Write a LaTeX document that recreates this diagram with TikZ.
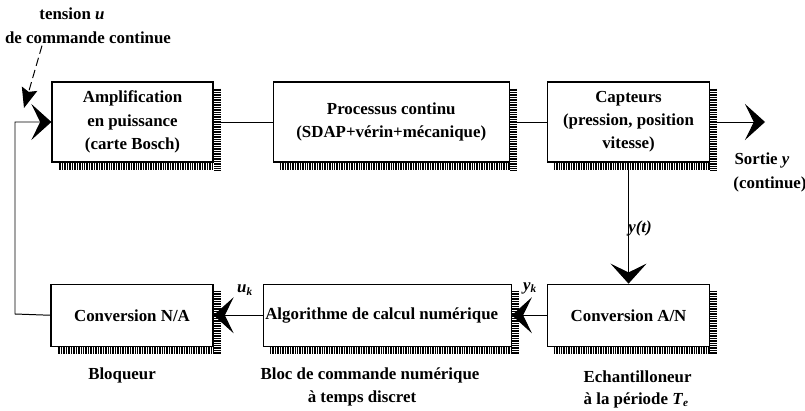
\documentclass[tikz,border=0pt]{standalone}
\usepackage{tikz}
\usetikzlibrary{positioning,arrows.meta,backgrounds}
\usepackage{fontspec}
\setmainfont{Liberation Serif}

\begin{document}
\begin{tikzpicture}[
  node distance=1.475cm and 1.475cm,
  blk/.style={draw, line width=0.9pt, fill=white, minimum height=2.0cm, align=center, font=\fontsize{12}{16.5}\selectfont\bfseries},
  lowblk/.style={blk, minimum height=1.55cm},
  ombre/.style={line width=0.18cm, dash pattern=on 0.6pt off 0.6pt},
  lbl/.style={align=center, inner sep=1pt, font=\fontsize{12}{16.5}\selectfont\bfseries},
  link/.style={line width=0.7pt},
  arr/.style={line width=0.7pt, -{Stealth[length=0.5cm, width=0.9cm, inset=0.22cm]}},
  hint/.style={line width=0.7pt, dash pattern=on 6pt off 3pt, -{Stealth[length=0.5cm, width=0.4cm, inset=0.08cm]}}]
\useasboundingbox (0,0) rectangle (20.125,10.25);
% chaine directe
\node[blk, minimum width=4.025cm] (ampli) at (3.3125,7.2) {Amplification\\en puissance\\(carte Bosch)};
\node[blk, minimum width=5.9cm, right=1.475cm of ampli] (proc) {Processus continu\\(SDAP+vérin+mécanique)};
\node[blk, minimum width=4.05cm, right=0.925cm of proc] (capt) {Capteurs\\(pression, position\\vitesse)};
% chaine numerique
\node[lowblk, minimum width=4.05cm, below=3.025cm of capt] (an) {Conversion A/N};
\node[lowblk, text width=6.1cm, inner xsep=0.05cm, align=flush left, left=0.875cm of an] (algo) {Algorithme de calcul numérique};
\node[lowblk, minimum width=4.05cm, left=1.225cm of algo] (na) {Conversion N/A};
% ombres
\begin{scope}[on background layer]
\foreach \nom in {ampli,proc,capt,an,algo,na} {
  \draw[ombre] ([shift={(0.09,-0.18)}]\nom.north east) -- ([shift={(0.09,-0.18)}]\nom.south east);
  \draw[ombre] ([shift={(0.18,-0.09)}]\nom.south west) -- ([shift={(0,-0.09)}]\nom.south east);
}
\end{scope}
% textes
\node[lbl] (tens) at (1.8,9.9) {tension \textit{u}};
\node[lbl] (cmd) at (2.2,9.3) {de commande continue};
\node[lbl] (sortie) at (19.05,6.25) {Sortie \textit{y}};
\node[lbl] (cont) at (19.25,5.65) {(continue)};
\node[lbl] (yt) at (16.0,4.55) {\textit{y(t)}};
\node[lbl] (uk) at (6.125,3.0) {\textit{u}\textsubscript{\textit{k}}};
\node[lbl] (yk) at (13.25,3.05) {\textit{y}\textsubscript{\textit{k}}};
\node[lbl] (bloq) at (3.05,0.875) {Bloqueur};
\node[lbl] (bloc) at (9.25,0.875) {Bloc de commande numérique};
\node[lbl] (disc) at (9.05,0.3) {à temps discret};
\node[lbl, anchor=west] (ech) at (14.55,0.825) {Echantilloneur};
\node[lbl, anchor=west] (per) at (14.55,0.25) {à la période \textit{T}\textsubscript{\textit{e}}};
\coordinate (out) at (19.125,7.2);
\coordinate (fbk) at (0.375,2.4);
\coordinate (pointe) at (0.6,7.55);
% liaisons
\draw[link] (ampli) -- (proc);
\draw[link] (proc) -- (capt);
\draw[arr] (capt) -- (out);
\draw[arr] (capt) -- (an);
\draw[arr] (an) -- (algo);
\draw[arr] (algo) -- (na);
\draw[arr] (na.west) -- (fbk) |- (ampli.west);
\draw[hint] ([xshift=-1.15cm]cmd.south) -- (pointe);
\end{tikzpicture}
\end{document}
